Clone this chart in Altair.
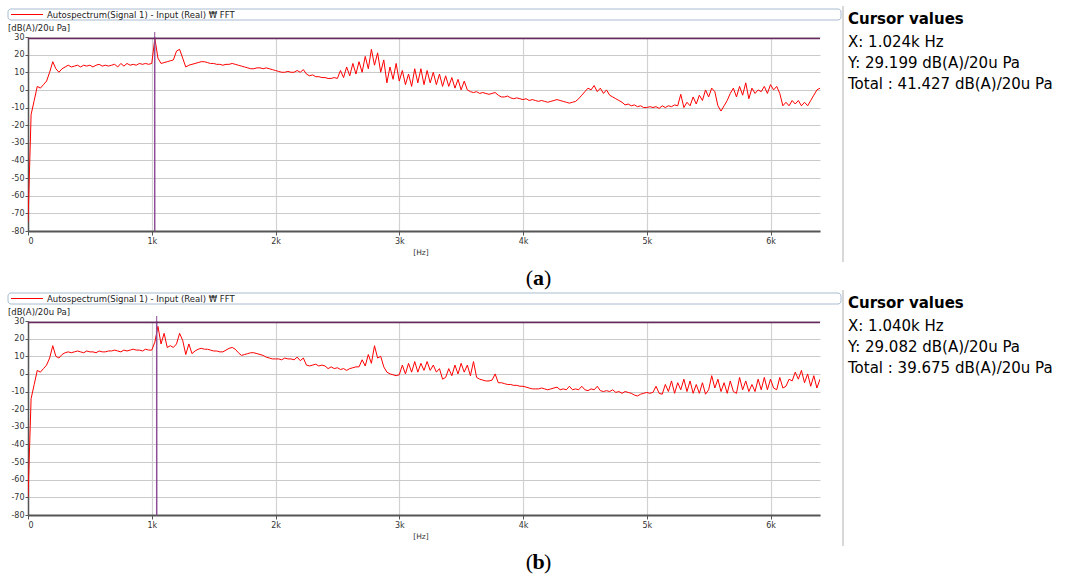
import altair as alt
import pandas as pd

# ---------------- data, 25 Hz spacing ----------------
STEP_HZ = 25

spectrum_a = [
    # 0 - 1000 Hz
    -75, -14, -6, 2, 1, 3, 5, 10, 16, 12, 10, 12, 13, 14, 13, 13.5, 14, 13, 14, 13.5,
    14, 13, 14, 14.5, 13.5, 14, 13.5, 14, 14.5, 13, 15, 13.5, 15, 14, 14.5, 14, 15, 14.5, 15, 14.5,
    15,
    # 1025 - 2000
    29.2, 18, 15, 15.5, 16, 16.5, 17, 22, 23, 18, 13, 14, 14.5, 15, 15.5, 16, 16, 15.5, 15, 15,
    14.5, 14.5, 14, 14.5, 14.5, 15, 14.5, 14, 13.5, 13, 12.5, 12, 12, 12.5, 12.5, 12, 12.5, 12, 11.5, 11,
    # 2025 - 3000
    10.5, 10, 10, 10.5, 10, 10, 11, 10, 11.5, 9, 8, 8.5, 7.5, 7.5, 7, 7, 6.5, 6.5, 7, 6.5,
    11, 7, 13, 8, 15, 9, 16, 10, 19, 12, 23, 14, 21, 10, 17, 4, 13, 6, 15, 5,
    # 3025 - 4000
    11, 3, 9, 2, 12, 4, 12, 3, 11, 4, 10, 3, 9, 2, 8, 2, 7, 1, 6, 0,
    5, 0, -1, -1.5, -1, -2, -1.5, -2, -2.5, -2, -1.5, -3, -4, -4, -3.5, -4.5, -5, -4.5, -5, -5.5,
    # 4025 - 5000
    -5, -6, -5.5, -6, -6.5, -6, -6.5, -7, -6.5, -6, -5.5, -6, -6.5, -7, -7.5, -7, -6.5, -5, -3, -1,
    1, 0, 2.5, -1, 1, -2, 0, -3, -4, -5, -6, -7, -8.5, -8, -9, -8.5, -9.5, -9, -10, -10,
    # 5025 - 6000
    -9.5, -10, -9.5, -10.5, -9, -10, -9, -9.5, -8.5, -9, -2.5, -10, -7, -9, -4, -8, -3, -6, 0, -4,
    1, -1, -9, -12, -9, -6, -2, 1, -4, 2, -3, 4, -5, 1, -2, 0, -1, 2, -2, 3,
    # 6025 - 6400
    0, 2, -2, -9, -7, -9, -6, -8, -6, -9, -7, -9, -6, -3, 0, 1,
]

spectrum_b = [
    # 0 - 1000 Hz
    -70, -14, -6, 2, 1, 3, 5, 9, 16, 10, 9, 11, 12, 12.5, 12, 12.5, 13, 12.5, 12, 13,
    12.5, 12.5, 12, 13, 12.5, 12.5, 13, 13, 13.5, 13, 12.5, 13.5, 13, 13.5, 14, 13.5, 13.5, 13, 14, 13.5,
    13.5,
    # 1025 - 2000
    18, 27, 17, 23, 15, 16, 15, 17, 23, 19, 11, 17, 11.5, 13, 14, 14.5, 14, 14, 13.5, 13,
    13, 12.5, 12.5, 13.5, 14.5, 15, 14, 12, 10.5, 11, 11.5, 12, 12, 11.5, 11, 10.5, 9.5, 9, 8.5, 8.5,
    # 2025 - 3000
    8.5, 8, 9, 8.5, 8.5, 8, 9.5, 7.5, 9, 5, 4.5, 5, 5.5, 4.5, 5, 4.5, 3, 4, 3, 3.5,
    2.5, 3, 2, 3, 3.5, 4, 4, 8, 4.5, 11, 6, 16, 9, 10, 4, 1, 0, -0.5, -1, -0.5,
    # 3025 - 4000
    5, 0, 6, 1, 7, 1, 6, 2, 7, 2, 5, 1, 3, -3, -2, 3, -1, 5, 0, 6,
    1, 5, -1, 7, -2, -3, -3.5, -4, -4, -3.5, 0, -5, -5, -5.5, -6, -6, -6.5, -6.5, -7, -7,
    # 4025 - 5000
    -7.5, -8, -8.5, -8.5, -8.5, -8, -8.5, -9, -8.5, -8, -7.5, -9, -8.5, -9, -7, -9, -8.5, -9, -7, -9,
    -9.5, -8.5, -9, -7, -9.5, -10, -9.5, -10, -9, -10.5, -10, -11, -10, -10.5, -11, -12, -12.5, -11.5, -11, -10.5,
    # 5025 - 6000
    -11, -10.5, -7, -11, -11.5, -6, -10, -4, -11, -5, -9, -3, -10, -4, -11, -6, -11, -5, -11.5, -9,
    -1, -8, -3, -10, -5, -11, -4, -10, -11, -2, -9, -4, -10, -6, -10, -3, -9, -2, -9, -3,
    # 6025 - 6400
    -8, -9, -2, -8, -7, -3, -4, 1, -3, 2, -5, 0, -7, -1, -8, -3,
]

frequencies = [i * STEP_HZ for i in range(len(spectrum_a))]

x_ticks = [0, 1000, 2000, 3000, 4000, 5000, 6000]
y_ticks = [-80, -70, -60, -50, -40, -30, -20, -10, 0, 10, 20, 30]

legend_label = "Autospectrum(Signal 1) - Input (Real) \u20a9 FFT"
y_unit = "[dB(A)/20u Pa]"
x_unit = "[Hz]"

cursor_a = {"x": 1024, "y": 29.199,
            "lines": ["X: 1.024k Hz", "Y: 29.199 dB(A)/20u Pa", "Total : 41.427 dB(A)/20u Pa"]}
cursor_b = {"x": 1040, "y": 29.082,
            "lines": ["X: 1.040k Hz", "Y: 29.082 dB(A)/20u Pa", "Total : 39.675 dB(A)/20u Pa"]}

# ---------------- styling ----------------
W, H = 792, 194
SMALL_FONT = "DejaVu Sans"
INFO_FONT = "DejaVu Sans"
RED = "#ff0000"
CURSOR_H = "#6a2a5f"
CURSOR_V = "#8e4d97"

XS = alt.Scale(domain=[0, 6400], nice=False, zero=False)
YS = alt.Scale(domain=[-80, 30], nice=False, zero=False)

X_AXIS = alt.Axis(values=x_ticks,
                  labelExpr="datum.value == 0 ? '0' : (datum.value / 1000) + 'k'",
                  grid=True, gridColor="#d2d2d2", gridWidth=1.2,
                  domainColor="#555555", domainWidth=2,
                  tickColor="#555555", tickSize=4,
                  labelFont=SMALL_FONT, labelFontSize=8, labelColor="#333333",
                  labelPadding=2, labelOverlap=False)
Y_AXIS = alt.Axis(values=y_ticks, labelExpr="'' + datum.value",
                  grid=True, gridColor="#cacaca", gridWidth=1,
                  domainColor="#555555", domainWidth=1.5,
                  tickColor="#555555", tickSize=3,
                  labelFont=SMALL_FONT, labelFontSize=8, labelColor="#333333",
                  labelPadding=1, labelOverlap=False)


def xenc():
    return alt.X("f:Q", scale=XS, title=None, axis=X_AXIS)


def yenc():
    return alt.Y("db:Q", scale=YS, title=None, axis=Y_AXIS)


def one(text=""):
    return pd.DataFrame({"t": [text]})


def panel(values, cursor, letter):
    df = pd.DataFrame({"f": frequencies, "db": values})

    line = alt.Chart(df).mark_line(color=RED, strokeWidth=1, clip=True).encode(x=xenc(), y=yenc())

    h_cursor = alt.Chart(pd.DataFrame({"f": [0, 6400], "db": [cursor["y"], cursor["y"]]})).mark_line(
        color=CURSOR_H, strokeWidth=1.5).encode(x=xenc(), y=yenc())
    v_cursor = alt.Chart(pd.DataFrame({"f": [cursor["x"], cursor["x"]], "db": [-80, 30]})).mark_line(
        color=CURSOR_V, strokeWidth=1.5).encode(x=xenc(), y=yenc())
    v_tick = alt.Chart(pd.DataFrame({"f": [cursor["x"]]})).mark_rule(
        color=CURSOR_V, strokeWidth=1).encode(x=xenc(), y=alt.value(-5), y2=alt.value(0))

    legend_box = alt.Chart(one()).mark_rect(
        fill="white", stroke="#a8bbd0", strokeWidth=1, cornerRadius=3).encode(
        x=alt.value(-20), x2=alt.value(813), y=alt.value(-28), y2=alt.value(-17))
    legend_line = alt.Chart(one("sample")).mark_rule(color=RED, stroke=RED, strokeWidth=1).encode(
        x=alt.value(-17), x2=alt.value(15), y=alt.value(-22.5))
    legend_text = alt.Chart(one(legend_label)).mark_text(
        align="left", baseline="middle", font=SMALL_FONT, fontSize=8.5, color="#222222").encode(
        x=alt.value(19), y=alt.value(-22), text="t:N")

    unit_text = alt.Chart(one(y_unit)).mark_text(
        align="left", baseline="middle", font=SMALL_FONT, fontSize=8.5, color="#222222").encode(
        x=alt.value(-20), y=alt.value(-9), text="t:N")
    hz_text = alt.Chart(one(x_unit)).mark_text(
        align="center", baseline="middle", font=SMALL_FONT, fontSize=7.5, color="#333333").encode(
        x=alt.value(393), y=alt.value(216), text="t:N")

    separator = alt.Chart(one()).mark_rule(color="#b0b0b0", strokeWidth=1).encode(
        x=alt.value(815), y=alt.value(-31), y2=alt.value(225))

    info_title = alt.Chart(one("Cursor values")).mark_text(
        align="left", baseline="middle", font=INFO_FONT, fontSize=15, fontWeight="bold",
        color="#000000").encode(x=alt.value(820), y=alt.value(-18), text="t:N")
    info = [info_title]
    for k, txt in enumerate(cursor["lines"]):
        info.append(alt.Chart(one(txt)).mark_text(
            align="left", baseline="middle", font=INFO_FONT, fontSize=15,
            color="#000000").encode(x=alt.value(820), y=alt.value(5 + 21 * k), text="t:N"))

    cap_l = alt.Chart(one("(")).mark_text(
        align="right", baseline="middle", font="Liberation Serif", fontSize=22,
        color="#000000").encode(x=alt.value(505), y=alt.value(241), text="t:N")
    cap_m = alt.Chart(one(letter)).mark_text(
        align="center", baseline="middle", font="Liberation Serif", fontSize=22, fontWeight="bold",
        color="#000000").encode(x=alt.value(510.5), y=alt.value(241), text="t:N")
    cap_r = alt.Chart(one(")")).mark_text(
        align="left", baseline="middle", font="Liberation Serif", fontSize=22,
        color="#000000").encode(x=alt.value(516), y=alt.value(241), text="t:N")

    return alt.layer(
        line, v_cursor, v_tick, h_cursor,
        legend_box, legend_line, legend_text, unit_text, hz_text, separator,
        *info, cap_l, cap_m, cap_r,
    ).properties(width=W, height=H)


chart = alt.vconcat(
    panel(spectrum_a, cursor_a, "a"),
    panel(spectrum_b, cursor_b, "b"),
    spacing=0,
).configure(
    padding={"left": 7, "top": 5, "right": 5, "bottom": 3},
    background="white",
).configure_view(stroke=None)

chart.save("out.html", embed_options={"renderer": "svg", "actions": False})
